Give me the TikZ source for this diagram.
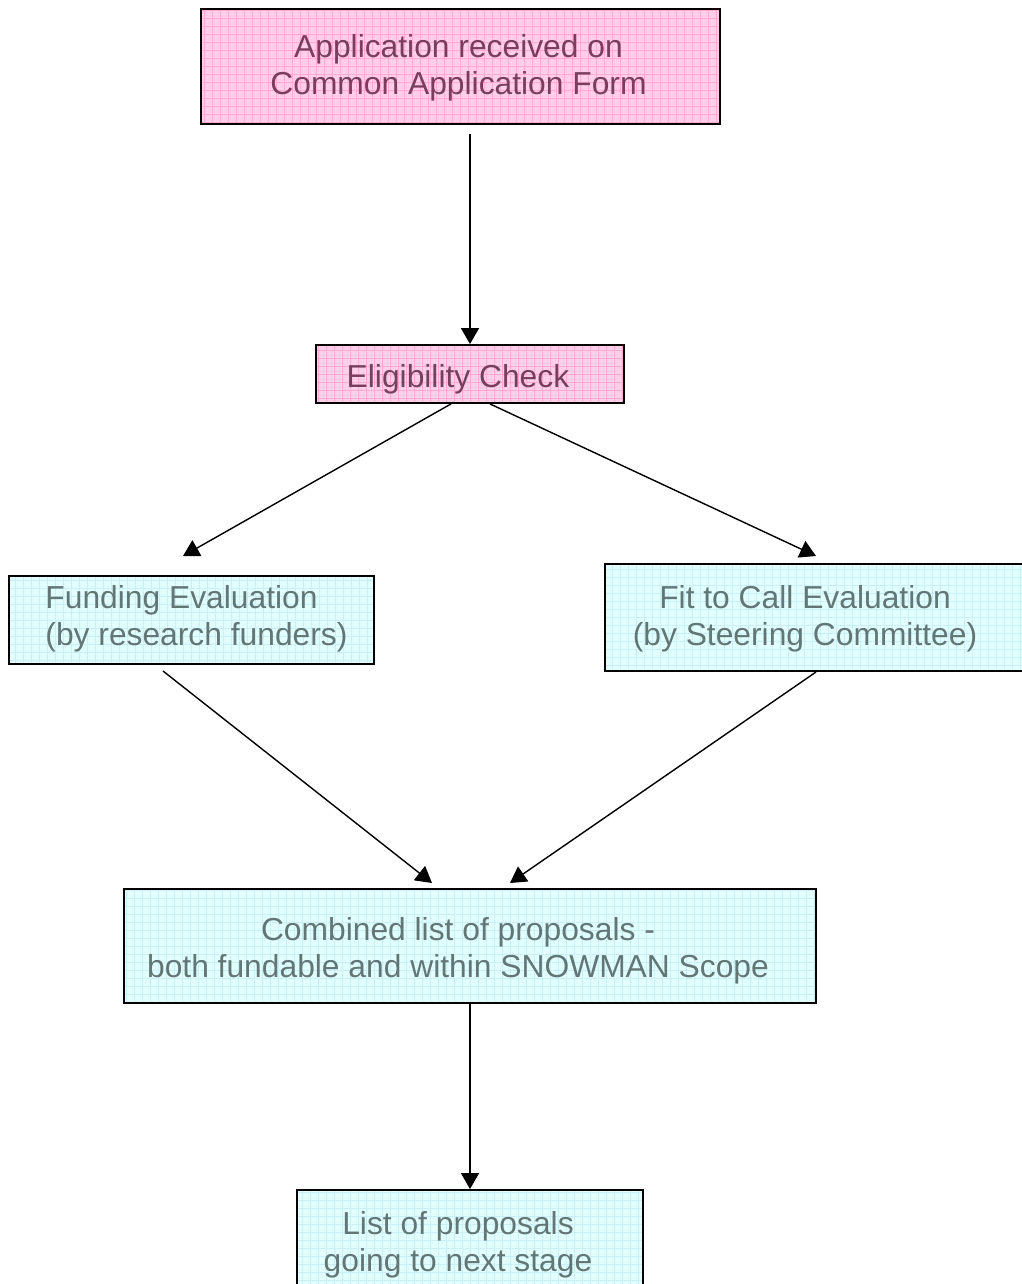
\documentclass[tikz,border=0pt]{standalone}
\usepackage{fontspec}
\setmainfont{Liberation Sans}
\usetikzlibrary{positioning,shapes,arrows.meta}
\usepackage{xcolor}

\definecolor{pinkfill}{RGB}{255,206,232}
\definecolor{pinkgrid}{RGB}{255,170,212}
\definecolor{pinktext}{RGB}{120,62,92}
\definecolor{cyanfill}{RGB}{226,255,255}
\definecolor{cyangrid}{RGB}{200,240,246}
\definecolor{cyantext}{RGB}{98,118,118}

\begin{document}
\begin{tikzpicture}[
  x=0.025cm, y=-0.025cm,
  box/.style={draw,rectangle,line width=1.3pt,inner sep=0pt},
  pinkbox/.style={box,fill=pinkfill,
    path picture={\draw[pinkgrid,line width=0.4pt,step=0.2cm]
      (path picture bounding box.south west) grid (path picture bounding box.north east);}},
  cyanbox/.style={box,fill=cyanfill,
    path picture={\draw[cyangrid,line width=0.4pt,step=0.2cm]
      (path picture bounding box.south west) grid (path picture bounding box.north east);}},
  txt/.style={inner sep=0pt,align=center,font=\fontsize{22.6}{26.3}\selectfont},
  pinktxt/.style={txt,text=pinktext},
  cyantxt/.style={txt,text=cyantext},
  arr/.style={line width=1pt,-{Triangle[length=0.4cm,width=0.45cm]}}
]
\useasboundingbox (0,0) rectangle (1021,1284);

% boxes
\node[pinkbox,minimum width=12.975cm,minimum height=2.875cm] (app) at (460.5,66.5) {};
\node[pinkbox,minimum width=7.7cm,minimum height=1.45cm] (elig) at (470,374) {};
\node[cyanbox,minimum width=9.125cm,minimum height=2.2cm] (fund) at (191.5,620) {};
\node[cyanbox,minimum width=10.75cm,minimum height=2.675cm] (fit) at (820,617.5) {};
\node[cyanbox,minimum width=17.3cm,minimum height=2.85cm] (comb) at (470,946) {};
\node[cyanbox,minimum width=8.65cm,minimum height=2.9cm] (next) at (470,1248) {};

% texts
\node[pinktxt] (apptext) at ([shift={(-2,1)}]app.center)
  {Application received on\\Common Application Form};
\node[pinktxt] (eligtext) at ([shift={(-12,5)}]elig.center) {Eligibility Check};
\node[cyantxt,align=left] (fundtext) at ([shift={(5,-1)}]fund.center)
  {Funding Evaluation\\(by research funders)};
\node[cyantxt] (fittext) at ([shift={(-15,1)}]fit.center)
  {Fit to Call Evaluation\\(by Steering Committee)};
\node[cyantxt] (combtext) at ([shift={(-12,5)}]comb.center)
  {Combined list of proposals -\\both fundable and within SNOWMAN Scope};
\node[cyantxt] (nexttext) at ([shift={(-12,-3)}]next.center)
  {List of proposals\\going to next stage};

% arrow ends
\coordinate (fundin) at (183,556);
\coordinate (fitin) at (816,556);
\coordinate (fundout) at (163,671);
\coordinate (fitout) at (816,672);
\coordinate (combinL) at (432,883);
\coordinate (combinR) at (510,883);

% connectors
\draw[arr,shorten <=0.225cm] (app.south -| elig.north) -- (elig.north);
\draw[arr] ([xshift=-0.475cm]elig.south) -- (fundin);
\draw[arr] ([xshift=0.5cm]elig.south) -- (fitin);
\draw[arr] (fundout) -- (combinL);
\draw[arr] (fitout) -- (combinR);
\draw[arr] (comb.south) -- (next.north);
\end{tikzpicture}
\end{document}
